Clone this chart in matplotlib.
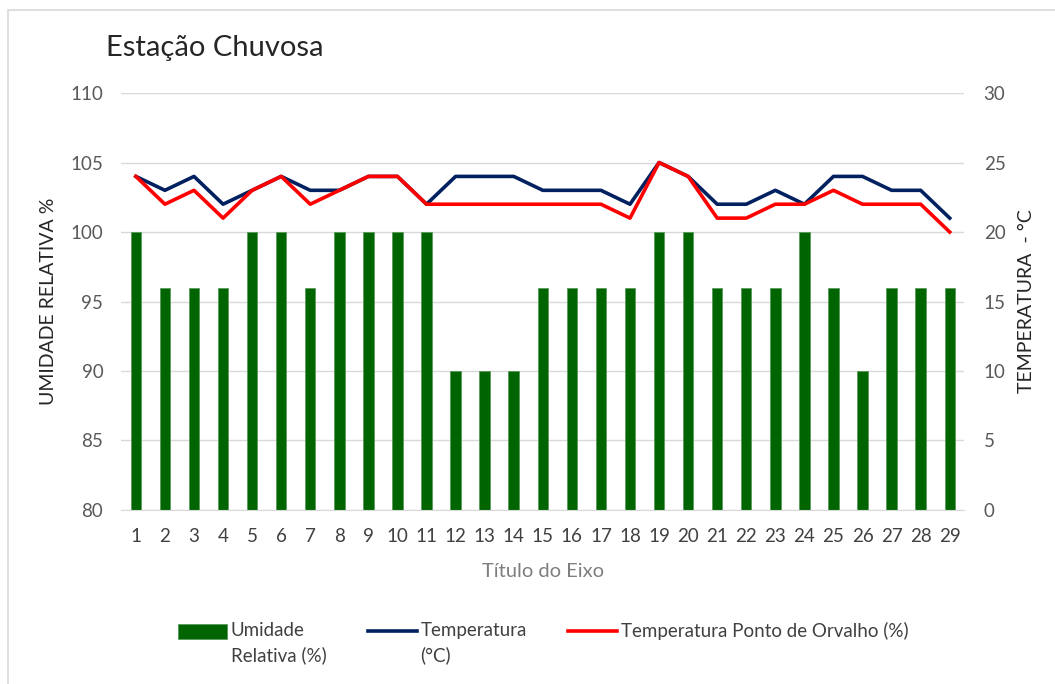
import matplotlib.pyplot as plt
import numpy as np
from matplotlib.patches import Rectangle
from matplotlib.legend_handler import HandlerLine2D, HandlerPatch

plt.rcParams['font.family'] = ['Lato', 'DejaVu Sans']

dias = list(range(1, 30))
umidade = [100, 96, 96, 96, 100, 100, 96, 100, 100, 100, 100, 90, 90, 90, 96,
           96, 96, 96, 100, 100, 96, 96, 96, 100, 96, 90, 96, 96, 96]
temperatura = [24, 23, 24, 22, 23, 24, 23, 23, 24, 24, 22, 24, 24, 24, 23,
               23, 23, 22, 25, 24, 22, 22, 23, 22, 24, 24, 23, 23, 21]
orvalho = [24, 22, 23, 21, 23, 24, 22, 23, 24, 24, 22, 22, 22, 22, 22,
           22, 22, 21, 25, 24, 21, 21, 22, 22, 23, 22, 22, 22, 20]

SHIFT = 0.64  # sobe o simbolo da legenda ate a primeira linha do texto


class LinhaAlta(HandlerLine2D):
    def create_artists(self, legend, orig_handle, xdescent, ydescent, width, height, fontsize, trans):
        return super().create_artists(legend, orig_handle, xdescent, ydescent - 2 * SHIFT * fontsize,
                                      width, height, fontsize, trans)


class BarraAlta(HandlerPatch):
    def create_artists(self, legend, orig_handle, xdescent, ydescent, width, height, fontsize, trans):
        return super().create_artists(legend, orig_handle, xdescent, ydescent - SHIFT * fontsize,
                                      width, height, fontsize, trans)


def primeira_barra(handle, orig):
    handle.update_from(orig.patches[0])


fig = plt.figure(figsize=(10.55, 6.84), dpi=100)
ax = fig.add_axes([0.115, 0.2544, 0.799, 0.6096])
ax2 = ax.twinx()

# moldura do grafico
fig.patches.append(Rectangle((0.0076, -0.01), 1.2, 0.995, transform=fig.transFigure,
                             fill=False, edgecolor='#d9d9d9', linewidth=1.2))

x = np.arange(len(dias))
barras = ax.bar(x, [u - 80 for u in umidade], bottom=80, width=0.36, color='#006400',
                edgecolor='#5a9a5a', linewidth=0.6, label='Umidade\nRelativa (%)', zorder=2)
l1, = ax2.plot(x, temperatura, color='#002060', linewidth=2.6, label='Temperatura\n(°C)')
l2, = ax2.plot(x, orvalho, color='#ff0000', linewidth=2.6,
               label='Temperatura Ponto de Orvalho (%)\n')

ax.set_xlim(-0.5, len(dias) - 0.5)
ax.set_ylim(80, 110)
ax.set_yticks(range(80, 111, 5))
ax2.set_ylim(0, 30)
ax2.set_yticks(range(0, 31, 5))
ax.set_xticks(x)
ax.set_xticklabels([str(d) for d in dias])

ax.grid(axis='y', color='#d9d9d9', linewidth=1, zorder=0)
ax.set_axisbelow(True)
for a in (ax, ax2):
    for s in a.spines.values():
        s.set_visible(False)
ax.spines['bottom'].set_visible(True)
ax.spines['bottom'].set_color('#d9d9d9')
ax.tick_params(axis='y', length=0, labelsize=13.5, labelcolor='#595959', pad=13)
ax.tick_params(axis='x', length=0, labelsize=13.5, labelcolor='#404040', pad=13)
ax2.tick_params(axis='y', length=0, labelsize=13.5, labelcolor='#595959', pad=14)

ax.set_ylabel('UMIDADE RELATIVA %', fontsize=14, color='#262626', labelpad=10)
ax2.set_ylabel('TEMPERATURA  - °C', fontsize=14, color='#262626', labelpad=9)
ax.set_xlabel('Título do Eixo', fontsize=14.5, color='#7f7f7f', labelpad=13)

fig.text(0.1, 0.93, 'Estação Chuvosa', fontsize=21, color='#262626', va='center')

leg = fig.legend(handles=[barras, l1, l2], loc='center', bbox_to_anchor=(0.515, 0.06),
                 ncol=3, frameon=False, fontsize=13.5, handlelength=2.6, handleheight=0.9,
                 handletextpad=0.2, columnspacing=2.2, labelcolor='#404040',
                 handler_map={barras: BarraAlta(update_func=primeira_barra),
                              l1: LinhaAlta(), l2: LinhaAlta()})
for t in leg.get_texts():
    t.set_linespacing(1.5)

fig.savefig('out.png', dpi=100)
